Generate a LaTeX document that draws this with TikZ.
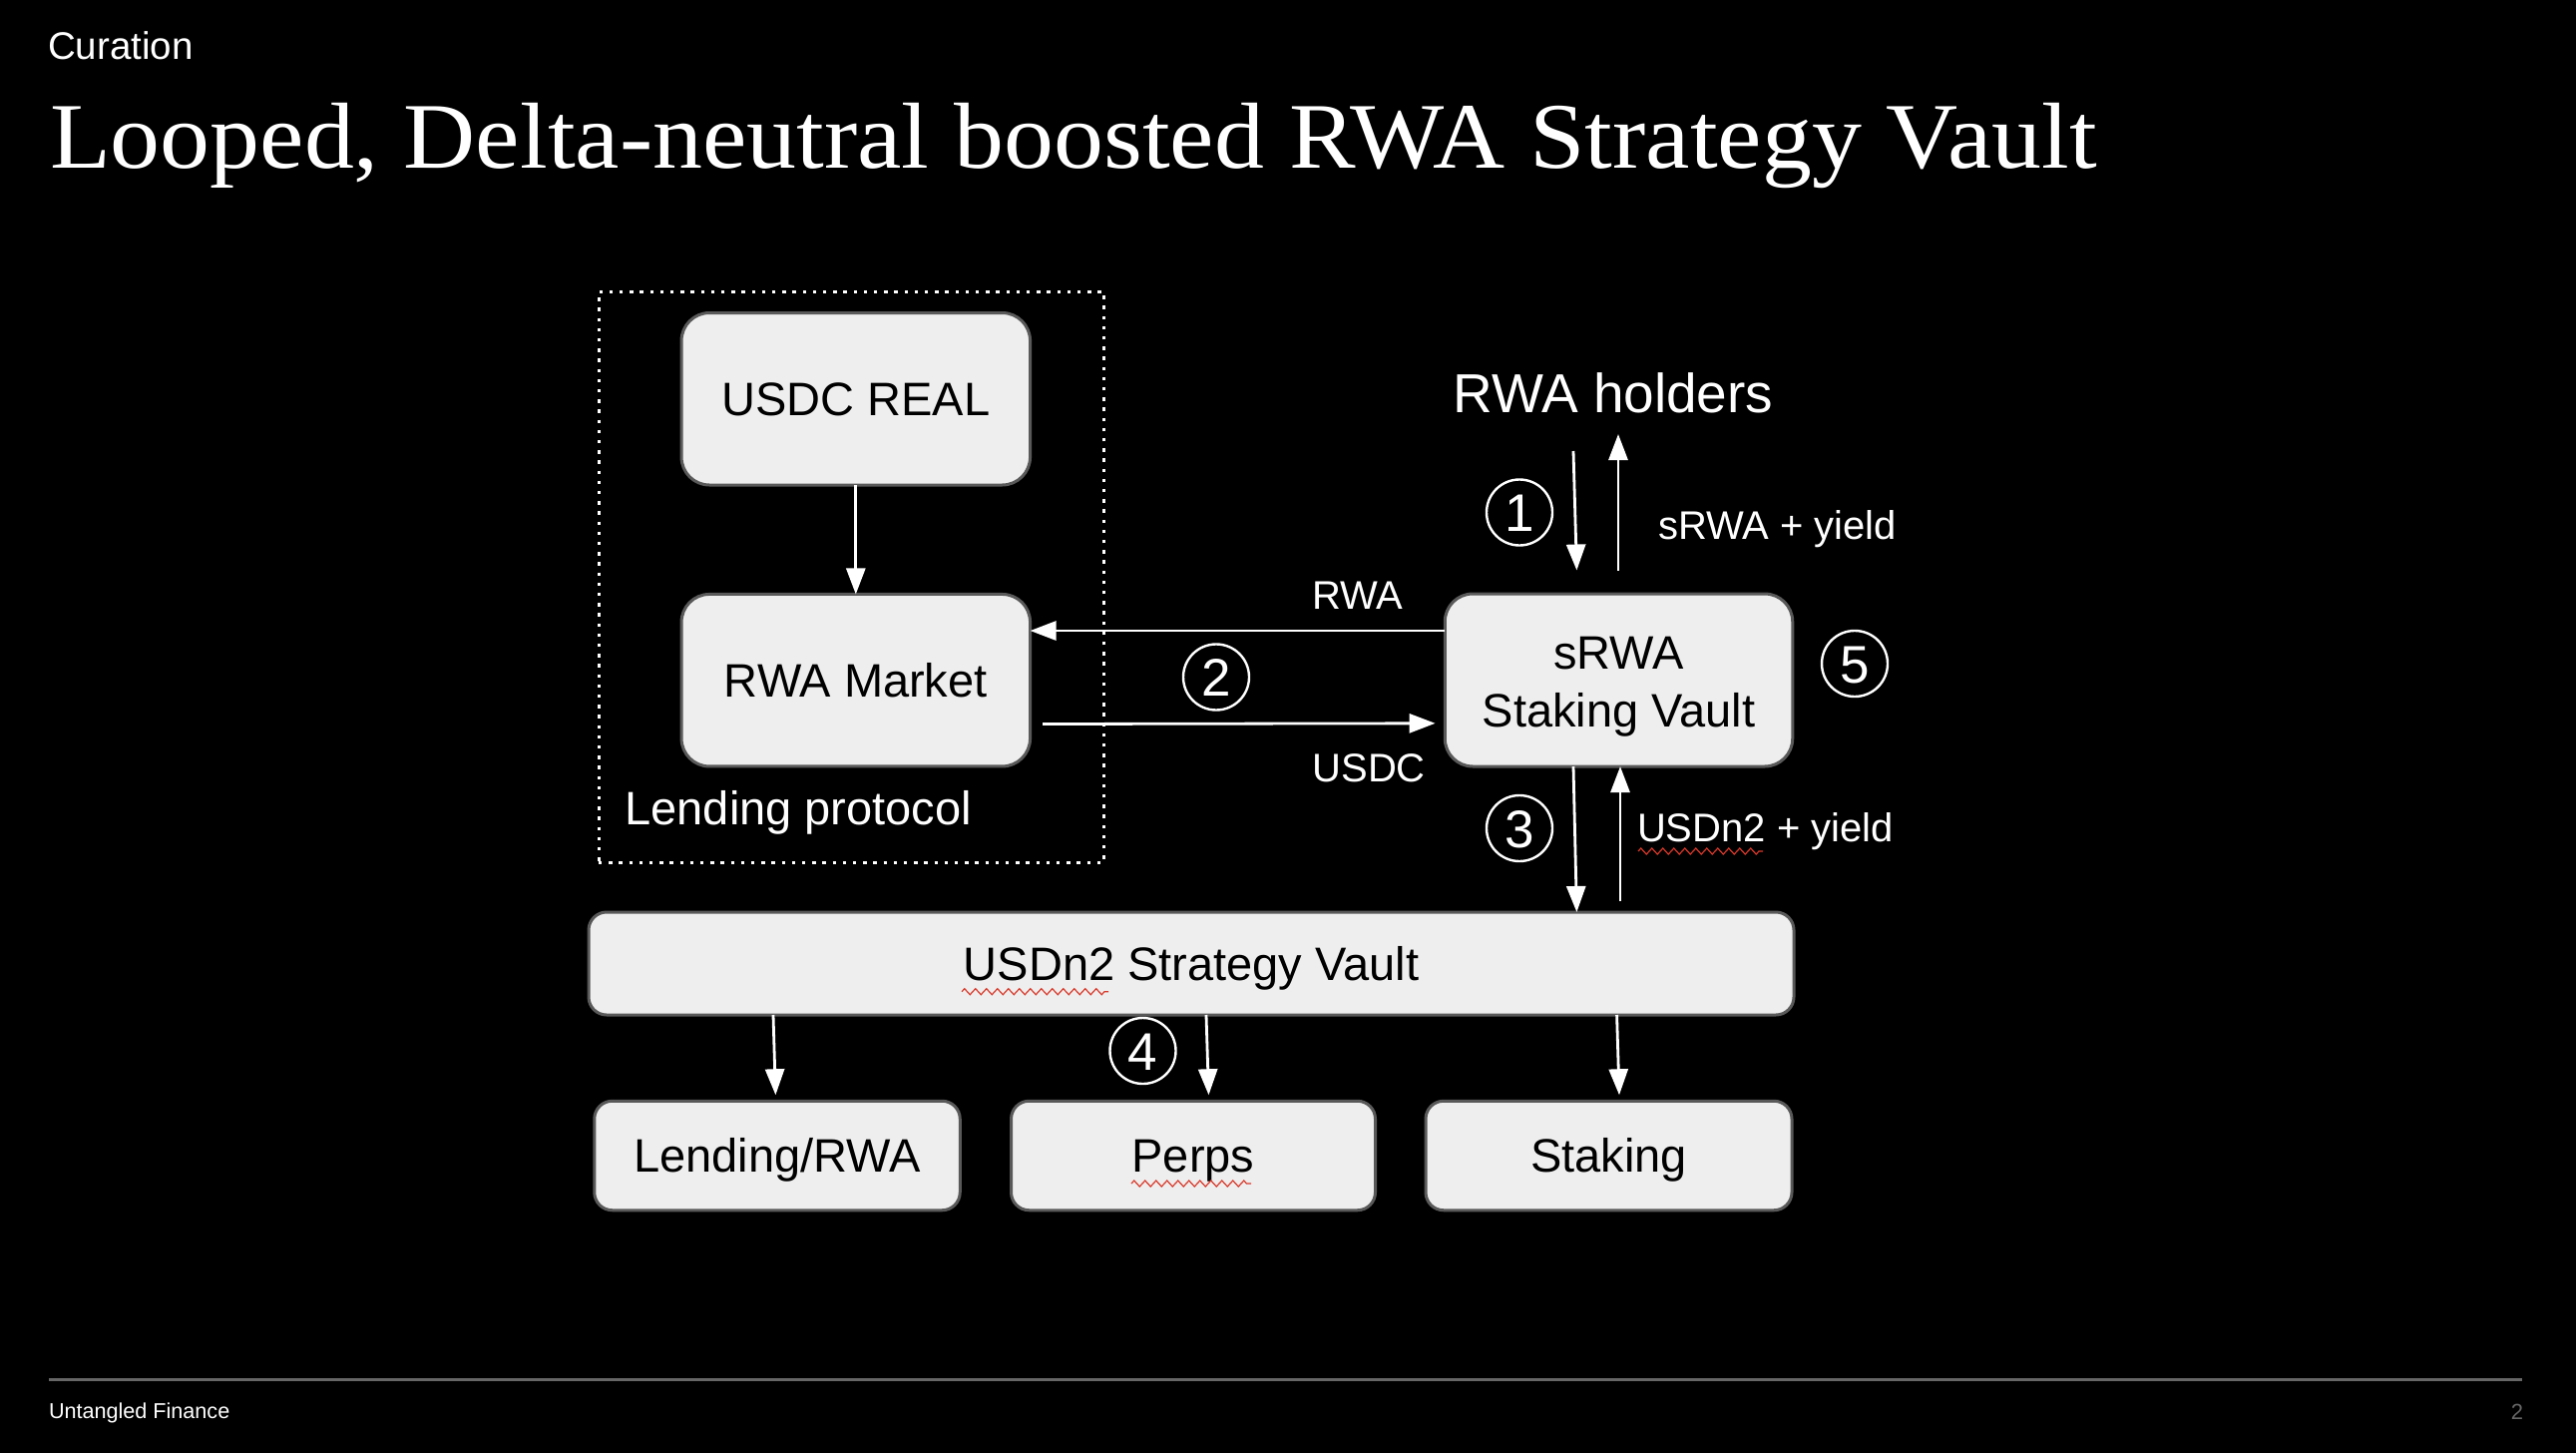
\documentclass[tikz,border=0pt]{standalone}
\usepackage{fontspec}
\usepackage{graphicx}
\setmainfont{Liberation Sans}
\newfontfamily\titlefont{Liberation Serif}
\usetikzlibrary{arrows.meta,calc,decorations.pathmorphing}
\definecolor{boxfill}{HTML}{EEEEEE}
\definecolor{boxline}{HTML}{595959}
\definecolor{footrule}{HTML}{666666}
\definecolor{squig}{HTML}{D9392B}
\tikzset{
  px/.code args={#1/#2}{\tikzset{font=\fontsize{#1pt}{#2pt}\selectfont}},
  vaultbox/.style={draw=boxline,fill=boxfill,line width=3pt,inner sep=0pt,outer sep=0pt,text=black,align=center,text depth=0pt},
  lbl/.style={text=white,inner sep=0pt,outer sep=0pt,anchor=base west},
  flow/.style={draw=white,line width=2.8pt,-{Triangle[length=26pt,width=19pt]},shorten >=0pt},
  stepmark/.style={circle,draw=white,line width=2.4pt,minimum size=66pt,inner sep=0pt,text=white,px=53/60,text height=38pt,text depth=0pt},
  spell/.style={draw=squig,line width=1.2pt,decorate,decoration={zigzag,segment length=11pt,amplitude=3pt}},
}
\begin{document}
\begin{tikzpicture}[x=1pt,y=-1pt]
\useasboundingbox (0,0) rectangle (2582,1456);
\fill[black] (0,0) rectangle (2582,1456);
% header
\node[lbl,px=38.5/44] (section) at (48,59) {Curation};
\node[lbl,font=\titlefont\fontsize{94pt}{100pt}\selectfont] (title) at (50,168) {\scalebox{1.062}[1]{Looped, Delta-neutral boosted RWA Strategy Vault}};
% footer
\coordinate (ruleL) at (49,1382.3);
\coordinate (ruleR) at (2528,1382.3);
\draw[color=footrule,line width=2.6pt] (ruleL) -- (ruleR);
\node[lbl,px=21.6/26] (footer) at (49,1421.7) {Untangled Finance};
\node[lbl,px=22/26,text=footrule,anchor=base east] (page) at (2529,1422) {2};
% lending frame
\node[draw=white,line width=3pt,dash pattern=on 3.4pt off 6.8pt,minimum width=506.5pt,minimum height=572pt,inner sep=0pt,outer sep=0pt] (frame) at (853.25,578) {};
% boxes
\node[vaultbox,rounded corners=28pt,minimum width=349.5pt,minimum height=172.5pt,px=47/56,text height=33.5pt] (usdc) at (857.8,399.75) {USDC REAL};
\node[vaultbox,rounded corners=28pt,minimum width=349.5pt,minimum height=172.5pt,px=47/56,text height=34.5pt] (market) at (857.8,681.7) {RWA Market};
\node[vaultbox,rounded corners=28pt,minimum width=348.5pt,minimum height=173pt,px=47/58,text height=94pt] (srwa) at (1622.5,681.5) {sRWA\\Staking Vault};
\node[vaultbox,rounded corners=18pt,minimum width=1208pt,minimum height=103pt,px=47/56,text height=33pt] (strategy) at (1194,965.5) {USDn2 Strategy Vault};
\node[vaultbox,rounded corners=18pt,minimum width=366.5pt,minimum height=109.5pt,px=47/56,text height=32pt] (lendrwa) at (779,1158) {Lending/RWA};
\node[vaultbox,rounded corners=18pt,minimum width=365pt,minimum height=109.5pt,px=47/56,text height=32pt] (perps) at (1196,1158) {Perps};
\node[vaultbox,rounded corners=18pt,minimum width=367pt,minimum height=109.5pt,px=47/56,text height=32pt] (staking) at (1612.5,1158) {Staking};
% labels
\node[lbl,px=47/56] (lendproto) at (626.5,826) {Lending protocol};
\node[lbl,px=55/60] (holders) at (1456.5,413) {RWA holders};
\node[lbl,px=40/46] (srwayield) at (1662,540) {sRWA + yield};
\node[lbl,px=40/46] (rwalbl) at (1315.5,610.5) {RWA};
\node[lbl,px=40/46] (usdclbl) at (1315.5,783) {USDC};
\node[lbl,px=40/46] (usdnyield) at (1641,843) {USDn2 + yield};
% step marks
\node[stepmark] (m1) at (1523,513.5) {1};
\node[stepmark] (m2) at (1219,678.5) {2};
\node[stepmark] (m3) at (1523,830) {3};
\node[stepmark] (m4) at (1145.5,1053) {4};
\node[stepmark] (m5) at (1859,665) {5};
% free ends
\coordinate (inTop) at (1577,452);
\coordinate (inEnd) at (1580.4,571.5);
\coordinate (outBase) at (1622,571.5);
\coordinate (outTip) at (1622,435);
\coordinate (usdcStart) at (1045,725.5);
\coordinate (usdcEnd) at (1438.6,724.8);
\coordinate (upBase) at (1624,903);
% connectors
\draw[flow] (usdc.south) -- (market.north);
\draw[flow] (inTop) -- (inEnd);
\draw[flow] (outBase) -- (outTip);
\draw[flow] ($(srwa.west)+(0,-49.5)$) -- ($(market.east)+(0,-49.7)$);
\draw[flow] (usdcStart) -- (usdcEnd);
\draw[flow] ($(srwa.south)+(-45.5,0)$) -- ($(strategy.north)+(386.4,0)$);
\draw[flow] (upBase) -- ($(srwa.south)+(1.5,0)$);
\draw[flow] ($(strategy.south)+(-419,0)$) -- ($(lendrwa.north)+(-1.6,-6)$);
\draw[flow] ($(strategy.south)+(15,0)$) -- ($(perps.north)+(15.5,-6)$);
\draw[flow] ($(strategy.south)+(426.6,0)$) -- ($(staking.north)+(10.5,-6)$);
% spell-check marks
\coordinate (sqA1) at (964,993.7);
\coordinate (sqA2) at (1111,993.7);
\coordinate (sqB1) at (1134,1186);
\coordinate (sqB2) at (1254,1186);
\coordinate (sqC1) at (1642,853);
\coordinate (sqC2) at (1767,853);
\draw[spell] (sqA1) -- (sqA2);
\draw[spell] (sqB1) -- (sqB2);
\draw[spell] (sqC1) -- (sqC2);
\end{tikzpicture}
\end{document}
